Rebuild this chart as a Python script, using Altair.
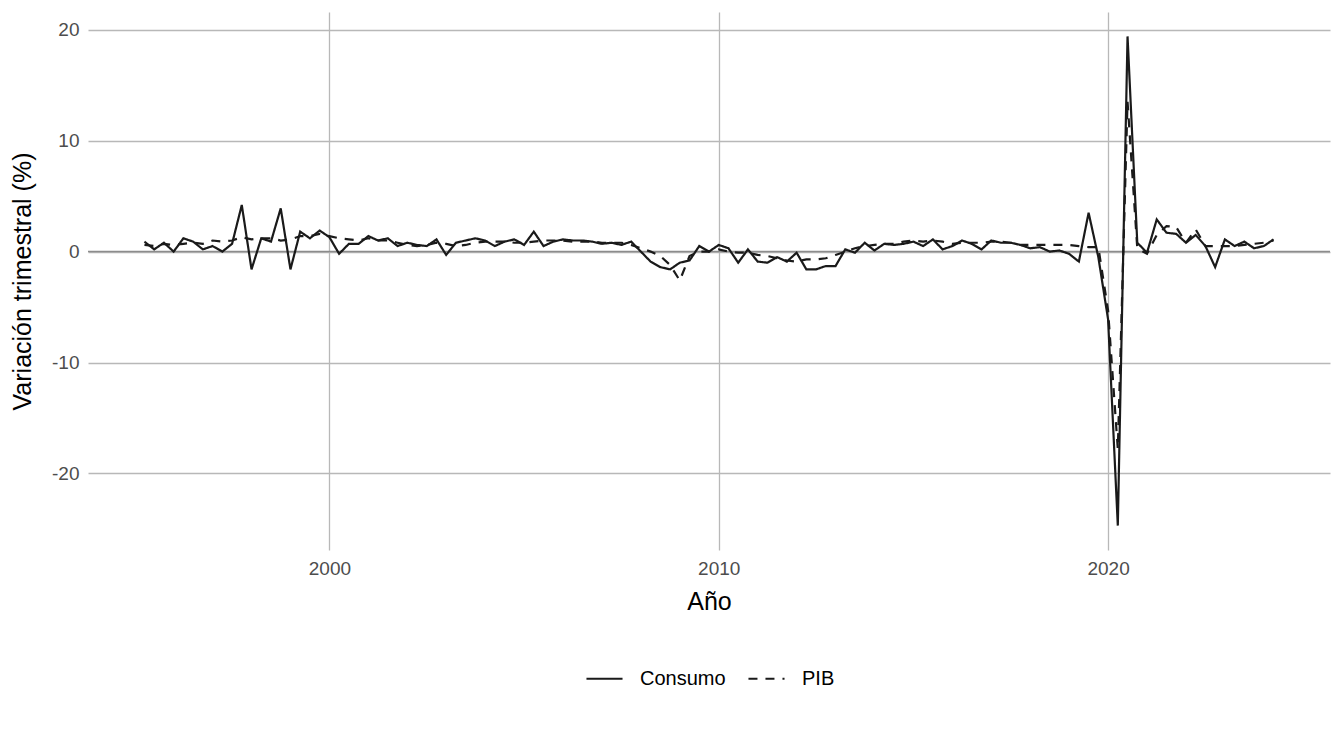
import altair as alt
import pandas as pd

# Quarterly series, 1995 Q2 .. 2024 Q2 (quarter-on-quarter % change)
consumo = [
    0.9, 0.2, 0.8, 0.0, 1.2, 0.9, 0.2, 0.5, 0.0, 0.7,
    4.2, -1.6, 1.2, 0.9, 3.9, -1.6, 1.8, 1.2, 1.9, 1.3,
    -0.2, 0.7, 0.7, 1.4, 1.0, 1.2, 0.5, 0.8, 0.6, 0.5,
    1.1, -0.3, 0.8, 1.0, 1.2, 1.0, 0.5, 0.9, 1.1, 0.6,
    1.8, 0.5, 0.9, 1.1, 1.0, 1.0, 0.9, 0.7, 0.8, 0.6,
    0.9, 0.0, -0.9, -1.4, -1.6, -1.0, -0.8, 0.5, 0.0, 0.6,
    0.3, -1.0, 0.2, -0.9, -1.0, -0.5, -0.9, -0.1, -1.6, -1.6,
    -1.3, -1.3, 0.2, -0.1, 0.8, 0.1, 0.7, 0.6, 0.7, 0.9,
    0.5, 1.1, 0.2, 0.5, 1.0, 0.7, 0.2, 1.0, 0.8, 0.8,
    0.6, 0.3, 0.4, 0.0, 0.1, -0.2, -0.9, 3.5, -0.5, -6.1,
    -24.7, 19.4, 0.8, -0.1, 2.9, 1.7, 1.6, 0.8, 1.5, 0.5,
    -1.4, 1.1, 0.5, 0.9, 0.3, 0.5, 1.1,
]
pib = [
    0.6, 0.5, 0.7, 0.6, 0.7, 0.8, 0.7, 1.0, 0.9, 1.0,
    1.3, 1.1, 1.2, 1.2, 1.0, 1.1, 1.4, 1.4, 1.6, 1.4,
    1.2, 1.1, 1.0, 1.2, 1.0, 1.0, 0.8, 0.6, 0.5, 0.6,
    0.8, 0.7, 0.5, 0.6, 0.8, 0.9, 0.9, 0.9, 0.8, 0.8,
    0.9, 1.0, 1.0, 1.0, 0.9, 0.9, 0.9, 0.8, 0.8, 0.8,
    0.6, 0.3, 0.0, -0.4, -1.2, -2.6, -0.4, 0.0, 0.0, 0.2,
    0.0, -0.1, -0.1, -0.3, -0.4, -0.6, -0.8, -0.9, -0.7, -0.7,
    -0.6, -0.3, 0.0, 0.3, 0.5, 0.6, 0.7, 0.7, 0.9, 1.0,
    0.9, 1.0, 0.9, 0.7, 0.8, 0.8, 0.8, 0.9, 0.9, 0.8,
    0.6, 0.6, 0.6, 0.6, 0.6, 0.6, 0.5, 0.4, 0.4, -5.3,
    -17.8, 13.5, 0.3, -0.2, 1.5, 2.3, 2.2, 0.8, 2.0, 0.5,
    0.5, 0.5, 0.5, 0.6, 0.7, 0.8, 1.0,
]
series = ["Consumo", "PIB"]
anio_inicio = 1995.25   # 1995 Q2
paso_trimestre = 0.25
x_ticks = [2000, 2010, 2020]
y_ticks = [-20, -10, 0, 10, 20]

n = len(consumo)
fecha = [anio_inicio + paso_trimestre * i for i in range(n)]
df = pd.DataFrame({
    "fecha": fecha + fecha,
    "valor": consumo + pib,
    "serie": [series[0]] * n + [series[1]] * n,
})
zero_df = pd.DataFrame({"valor": [0]})

x_enc = alt.X(
    "fecha:Q",
    scale=alt.Scale(domain=[1993.8, 2025.7], nice=False, zero=False),
    axis=alt.Axis(values=x_ticks, format="d", title="Año",
                  titleY=51, titleBaseline="middle"),
)
y_enc = alt.Y(
    "valor:Q",
    scale=alt.Scale(domain=[-26.9, 21.6], nice=False, zero=False),
    axis=alt.Axis(values=y_ticks, labelExpr="'' + datum.value",
                  title="Variación trimestral (%)",
                  titleX=-66, titleY=269, titleBaseline="middle", titleAlign="center"),
)

zero = alt.Chart(zero_df).mark_rule(color="#8c8c8c", strokeWidth=1.5).encode(y=y_enc)

lines = alt.Chart(df).mark_line(color="#1a1a1a", strokeWidth=2.2).encode(
    x=x_enc,
    y=y_enc,
    strokeDash=alt.StrokeDash(
        "serie:N",
        scale=alt.Scale(domain=series, range=[[1, 0], [9, 8]]),
        legend=alt.Legend(
            title=None, orient="none", direction="horizontal",
            legendX=497, legendY=647,
            symbolType="stroke", symbolSize=1300,
            symbolStrokeColor="#1a1a1a", symbolStrokeWidth=2.2,
            labelFont="Liberation Sans", labelFontSize=20, labelColor="#000000",
            labelOffset=16, columnPadding=18,
        ),
    ),
    detail="serie:N",
)

chart = alt.layer(zero, lines).properties(
    width=1242, height=538,
    autosize=alt.AutoSizeParams(type="none"),
    padding={"left": 80, "top": 4, "right": 6, "bottom": 160},
).configure_view(stroke=None).configure_axis(
    domain=False, ticks=False, grid=True,
    gridColor="#b8b8b8", gridWidth=1.3,
    labelFont="Liberation Sans", labelFontSize=19, labelColor="#4d4d4d",
    labelPadding=9,
    titleFont="Liberation Sans", titleFontSize=25, titleColor="#000000",
    titleFontWeight="normal",
)

chart.save("out.html", embed_options={"renderer": "svg", "actions": False})
